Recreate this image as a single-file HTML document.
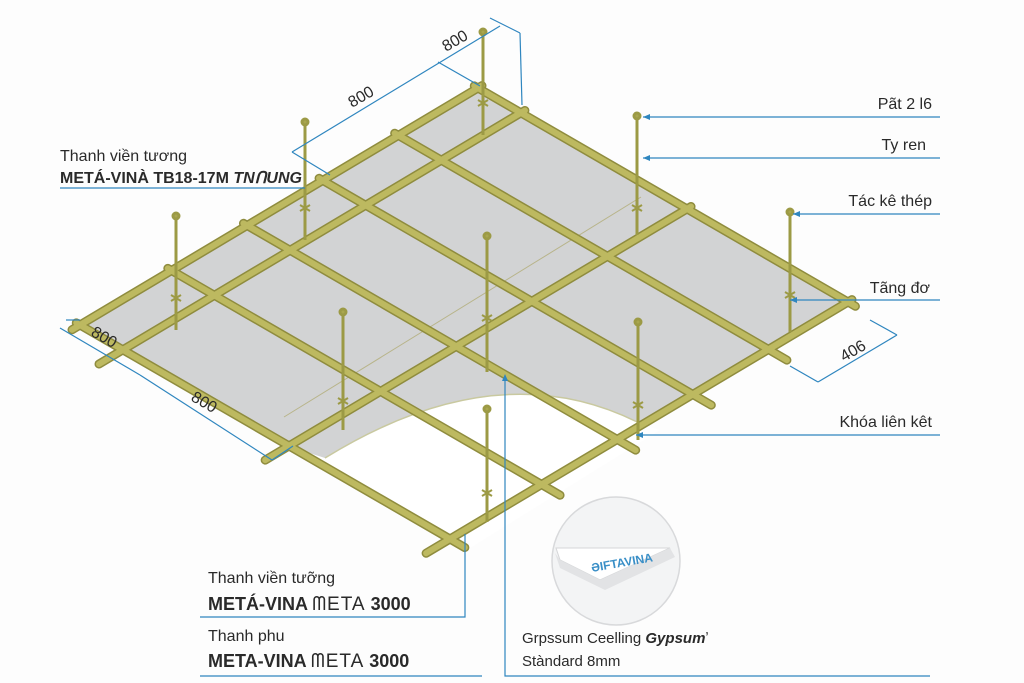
<!DOCTYPE html>
<html><head><meta charset="utf-8"><style>
html,body{margin:0;padding:0;background:#fff;}
svg{display:block;}
text{font-family:"Liberation Sans",sans-serif;fill:#2a2a2a;}
.b{font-weight:bold;}
</style></head><body>
<svg width="1024" height="683" viewBox="0 0 1024 683" xmlns="http://www.w3.org/2000/svg">
<rect width="1024" height="683" fill="#fdfdfd"/>
<g transform="matrix(370,214,-398,237,478,88)">
<polygon points="0,0 1,0 1,1 0,1" fill="#d2d3d4"/>
</g>
<path d="M325,458 Q500,350 643,425 L660,430 L470,548 L300,450 Z" fill="#fff"/>
<path d="M325,458 Q500,350 643,425" fill="none" stroke="#c9c9a0" stroke-width="1.5"/>
<line x1="284" y1="417" x2="641" y2="197" stroke="#b8b48a" stroke-width="1"/>
<g transform="matrix(370,214,-398,237,478,88)" fill="none" stroke-linecap="round">
<g stroke="#8f8c3e" stroke-width="9">
<line x1="-0.01" y1="0" x2="1.02" y2="0" vector-effect="non-scaling-stroke"/>
<line x1="-0.01" y1="0.2" x2="1.05" y2="0.2" vector-effect="non-scaling-stroke"/>
<line x1="-0.01" y1="0.39" x2="1.05" y2="0.39" vector-effect="non-scaling-stroke"/>
<line x1="-0.01" y1="0.58" x2="1.05" y2="0.58" vector-effect="non-scaling-stroke"/>
<line x1="-0.01" y1="0.77" x2="1.05" y2="0.77" vector-effect="non-scaling-stroke"/>
<line x1="-0.01" y1="1" x2="1.04" y2="1" vector-effect="non-scaling-stroke"/>
<line x1="0" y1="-0.01" x2="0" y2="1.02" vector-effect="non-scaling-stroke"/>
<line x1="0.116" y1="-0.01" x2="0.116" y2="1.06" vector-effect="non-scaling-stroke"/>
<line x1="0.565" y1="-0.01" x2="0.565" y2="1.06" vector-effect="non-scaling-stroke"/>
<line x1="1" y1="-0.01" x2="1" y2="1.06" vector-effect="non-scaling-stroke"/>
</g>
<g stroke="#bdb960" stroke-width="6">
<line x1="-0.01" y1="0" x2="1.02" y2="0" vector-effect="non-scaling-stroke"/>
<line x1="-0.01" y1="0.2" x2="1.05" y2="0.2" vector-effect="non-scaling-stroke"/>
<line x1="-0.01" y1="0.39" x2="1.05" y2="0.39" vector-effect="non-scaling-stroke"/>
<line x1="-0.01" y1="0.58" x2="1.05" y2="0.58" vector-effect="non-scaling-stroke"/>
<line x1="-0.01" y1="0.77" x2="1.05" y2="0.77" vector-effect="non-scaling-stroke"/>
<line x1="-0.01" y1="1" x2="1.04" y2="1" vector-effect="non-scaling-stroke"/>
<line x1="0" y1="-0.01" x2="0" y2="1.02" vector-effect="non-scaling-stroke"/>
<line x1="0.116" y1="-0.01" x2="0.116" y2="1.06" vector-effect="non-scaling-stroke"/>
<line x1="0.565" y1="-0.01" x2="0.565" y2="1.06" vector-effect="non-scaling-stroke"/>
<line x1="1" y1="-0.01" x2="1" y2="1.06" vector-effect="non-scaling-stroke"/>
</g>
</g>
<g stroke="#9c9a45" stroke-width="3" fill="#a9a64e">
<line x1="483" y1="30" x2="483" y2="135"/><circle cx="483" cy="32" r="3"/><path d="M478,100 l10,6 M478,106 l10,-6" stroke-width="2"/>
<line x1="305" y1="120" x2="305" y2="240"/><circle cx="305" cy="122" r="3"/><path d="M300,205 l10,6 M300,211 l10,-6" stroke-width="2"/>
<line x1="637" y1="114" x2="637" y2="235"/><circle cx="637" cy="116" r="3"/><path d="M632,205 l10,6 M632,211 l10,-6" stroke-width="2"/>
<line x1="176" y1="214" x2="176" y2="330"/><circle cx="176" cy="216" r="3"/><path d="M171,295 l10,6 M171,301 l10,-6" stroke-width="2"/>
<line x1="487" y1="234" x2="487" y2="372"/><circle cx="487" cy="236" r="3"/><path d="M482,315 l10,6 M482,321 l10,-6" stroke-width="2"/>
<line x1="790" y1="210" x2="790" y2="332"/><circle cx="790" cy="212" r="3"/><path d="M785,292 l10,6 M785,298 l10,-6" stroke-width="2"/>
<line x1="343" y1="310" x2="343" y2="430"/><circle cx="343" cy="312" r="3"/><path d="M338,398 l10,6 M338,404 l10,-6" stroke-width="2"/>
<line x1="638" y1="320" x2="638" y2="440"/><circle cx="638" cy="322" r="3"/><path d="M633,402 l10,6 M633,408 l10,-6" stroke-width="2"/>
<line x1="487" y1="407" x2="487" y2="522"/><circle cx="487" cy="409" r="3"/><path d="M482,490 l10,6 M482,496 l10,-6" stroke-width="2"/>
</g>
<g stroke="#2f86bf" stroke-width="1.2" fill="none">
<line x1="292" y1="152" x2="500" y2="26"/>
<line x1="292" y1="152" x2="330" y2="175"/>
<line x1="438" y1="62" x2="480" y2="86"/>
<line x1="490" y1="18" x2="520" y2="33"/><line x1="520" y1="33" x2="522" y2="105"/>
<line x1="60" y1="328" x2="140" y2="375"/><line x1="140" y1="375" x2="272" y2="460"/>
<line x1="66" y1="320" x2="80" y2="320"/>
<line x1="272" y1="460" x2="293" y2="446"/>
<line x1="818" y1="382" x2="897" y2="335"/>
<line x1="790" y1="366" x2="818" y2="382"/>
<line x1="870" y1="320" x2="897" y2="335"/>
<line x1="643" y1="117" x2="940" y2="117"/>
<line x1="643" y1="158" x2="940" y2="158"/>
<line x1="793" y1="214" x2="940" y2="214"/>
<line x1="790" y1="300" x2="940" y2="300"/>
<line x1="636" y1="435" x2="940" y2="435"/>
<line x1="60" y1="188" x2="305" y2="188"/>
<polyline points="465,534 465,617 200,617"/>
<line x1="200" y1="676" x2="482" y2="676"/>
<polyline points="505,378 505,676 930,676"/>
</g>
<g fill="#2f86bf">
<path d="M643,117 l7,-3 v6z"/><path d="M643,158 l7,-3 v6z"/><path d="M793,214 l7,-3 v6z"/><path d="M790,300 l7,-3 v6z"/><path d="M636,435 l7,-3 v6z"/><path d="M505,374 l-3,7 h6z"/>
</g>
<text x="0" y="0" font-size="16" transform="translate(352,108) rotate(-30)">800</text>
<text x="0" y="0" font-size="16" transform="translate(446,52) rotate(-30)">800</text>
<text x="0" y="0" font-size="16" transform="translate(90,335) rotate(30)">800</text>
<text x="0" y="0" font-size="16" transform="translate(190,400) rotate(30)">800</text>
<text x="0" y="0" font-size="16" transform="translate(844,362) rotate(-30)">406</text>
<text x="932" y="109" font-size="16" text-anchor="end">Pãt 2 l6</text>
<text x="926" y="150" font-size="16" text-anchor="end">Ty ren</text>
<text x="932" y="206" font-size="16" text-anchor="end">Tác kê thép</text>
<text x="930" y="293" font-size="16" text-anchor="end">Tãng đơ</text>
<text x="932" y="427" font-size="16" text-anchor="end">Khóa liên kêt</text>
<text x="60" y="161" font-size="16">Thanh viền tương</text>
<text x="60" y="183" font-size="16" class="b">METÁ-VINÀ TB18-17M <tspan font-style="italic">TNՈUNG</tspan></text>
<text x="208" y="583" font-size="16">Thanh viền tưỡng</text>
<text x="208" y="610" font-size="18" class="b">METÁ-VINA <tspan font-weight="normal" font-size="19" letter-spacing="1">ᗰETA</tspan> 3000</text>
<text x="208" y="641" font-size="16">Thanh phu</text>
<text x="208" y="667" font-size="18" class="b">META-VINA <tspan font-weight="normal" font-size="19" letter-spacing="1">ᗰETA</tspan> 3000</text>
<text x="522" y="643" font-size="15">Grpssum Ceelling <tspan class="b" font-style="italic">Gypsum</tspan>ʼ</text>
<text x="522" y="666" font-size="15">Stàndard 8mm</text>
<circle cx="616" cy="561" r="64" fill="#f3f4f5" stroke="#d8d9db" stroke-width="1.5"/>
<path d="M556,548 L650,548 L670,548 L600,580 L560,560 Z" fill="#fff" stroke="#d5d6d8"/>
<path d="M555,553 L560,568 L605,590 L675,557 L670,548 L600,580 L560,560 Z" fill="#e2e3e5"/>
<text x="0" y="0" font-size="12" class="b" style="fill:#3a8fc7" transform="translate(592,572) rotate(-10)">ƏIFTAVINA</text>
</svg>
</body></html>
